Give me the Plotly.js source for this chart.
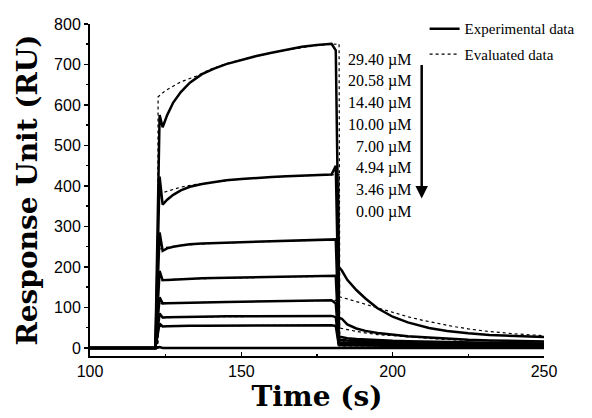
<!DOCTYPE html>
<html>
<head>
<meta charset="utf-8">
<script src="https://cdn.plot.ly/plotly-3.0.1.min.js"></script>
<style>html,body{margin:0;padding:0;background:#fff;}#chart{width:592px;height:418px;}</style>
</head>
<body>
<div id="chart"></div>
<script>
// Concentration labels (top to bottom)
const concLabels = ["29.40 \u00b5M", "20.58 \u00b5M", "14.40 \u00b5M", "10.00 \u00b5M", "7.00 \u00b5M", "4.94 \u00b5M", "3.46 \u00b5M", "0.00 \u00b5M"];

// Experimental data: shared time grid (s)
const expTime = [100, 121.6, 123.0, 124.0, 125.5, 127.5, 130, 133, 137, 141, 145, 150, 155, 160, 165, 170, 175, 179.8, 181.2, 182.2, 183.2, 185, 188, 191, 195, 200, 205, 212, 218, 225, 232, 240, 250];
const exp2940 = [0, 0, 575, 545, 575, 606, 632, 655, 676, 690, 701, 711, 721, 729, 736, 744, 748, 751, 735, 200, 191, 168, 143, 122, 98, 77, 63, 49, 42, 36, 32, 29, 27];
const exp2058 = [0, 0, 423, 354, 366, 378, 389, 398, 405, 410, 414, 417, 420, 422, 424, 425, 427, 428, 450, 75, 72, 58, 48, 42, 37, 33, 29, 26, 23, 20, 18.5, 17, 16];
const exp1440 = [0, 0, 285, 240, 246, 250, 253, 256, 258, 259, 260, 261, 262, 263, 264, 265, 266, 267, 268, 28, 26, 24, 22, 20.5, 19, 17.5, 16.5, 15, 14, 13, 12.5, 12, 11];
const exp1000 = [0, 0, 190, 167, 168, 169, 170, 171, 172, 172.5, 173, 174, 174.5, 175, 175.5, 176, 176.5, 177, 178, 20, 19, 18, 17, 16, 15, 14, 13, 12, 11.5, 11, 10.5, 10, 9.5];
const exp700 = [0, 0, 125, 110, 110.5, 111, 111.5, 112, 112.5, 113, 113.5, 114, 115, 115.5, 116, 116.5, 117, 117.5, 110, 14, 13.5, 13, 12.5, 12, 11.5, 11, 10.5, 10, 9.5, 9, 8.5, 8, 7.5];
const exp494 = [0, 0, 85, 75, 75.5, 76, 76.5, 77, 77, 77.5, 78, 78, 78.5, 78.5, 79, 79, 79, 79, 76, 10, 9.5, 9, 8.5, 8, 7.5, 7, 6.8, 6.5, 6.2, 6, 5.6, 5.3, 5];
const exp346 = [0, 0, 60, 53, 53.5, 54, 54, 54.5, 54.5, 55, 55, 55, 55.5, 55.5, 56, 56, 56, 56, 54, 7, 6.8, 6.5, 6.2, 6, 5.6, 5.3, 5, 4.7, 4.4, 4.1, 3.9, 3.7, 3.5];
const exp000 = [0, 0, 2, 0, 0, 0, 0, 0, 0, 0, 0, 0, 0, 0, 0, 0, 0, 0, 1, 0, 0, 0, 0, 0, 0, 0, 0, 0, 0, 0, 0, 0, 0];

// Evaluated (fitted) data: shared time grid (s)
const evalTime = [100, 122.3, 122.5, 125, 130, 135, 140, 145, 150, 155, 160, 165, 170, 175, 182.3, 182.5, 185, 190, 195, 200, 205, 210, 215, 220, 225, 230, 240, 250];
const eval2940 = [0, 0, 620, 636, 657, 671, 689, 702, 712, 721, 729, 736, 742, 747, 751, 126, 121, 110, 98, 87, 77, 68, 60, 53, 47, 42, 35, 30];
const eval2058 = [0, 0, 380, 386, 397, 404, 409, 413, 417, 420, 422, 424, 425, 427, 428, 49, 45, 38, 33, 30, 27, 24, 22, 20, 19, 18, 17, 16];
const eval1440 = [0, 0, 243, 248, 253, 256, 258, 259.5, 261, 262, 263, 264, 265, 266, 267, 22, 21, 19, 17.5, 16.5, 15.5, 14.5, 13.5, 13, 12.5, 12, 11.5, 11];
const eval1000 = [0, 0, 166, 168, 170, 171, 172, 173, 174, 174.5, 175, 175.5, 176, 176.5, 177, 15, 14.5, 13.5, 13, 12.5, 12, 11.5, 11, 10.5, 10, 10, 9.5, 9];
const eval700 = [0, 0, 109, 110, 111, 112, 113, 113.5, 114, 115, 115.5, 116, 116.5, 117, 117.5, 10, 9.8, 9.5, 9.2, 9, 8.7, 8.5, 8.2, 8, 7.8, 7.6, 7.3, 7];
const eval494 = [0, 0, 74, 75, 76, 76.5, 77, 77.5, 78, 78, 78.5, 78.5, 79, 79, 79, 7, 6.8, 6.5, 6.3, 6, 5.8, 5.6, 5.4, 5.2, 5, 4.9, 4.7, 4.5];
const eval346 = [0, 0, 53, 53.5, 54, 54.5, 55, 55, 55.5, 55.5, 56, 56, 56, 56, 56, 5, 4.8, 4.6, 4.4, 4.2, 4, 3.9, 3.8, 3.7, 3.6, 3.5, 3.4, 3.3];
const eval000 = [0, 0, 0, 0, 0, 0, 0, 0, 0, 0, 0, 0, 0, 0, 0, 0, 0, 0, 0, 0, 0, 0, 0, 0, 0, 0, 0, 0];

const expSeries = [exp2940, exp2058, exp1440, exp1000, exp700, exp494, exp346, exp000];
const evalSeries = [eval2940, eval2058, eval1440, eval1000, eval700, eval494, eval346, eval000];

const traces = [];
evalSeries.forEach((ys, i) => {
  traces.push({
    x: evalTime, y: ys, type: 'scatter', mode: 'lines',
    line: {color: '#000', width: 1.2, dash: 'dot'},
    name: 'Evaluated data', legendgroup: 'eval', legendrank: 2,
    showlegend: i === 0, hoverinfo: 'skip'
  });
});
expSeries.forEach((ys, i) => {
  traces.push({
    x: expTime, y: ys, type: 'scatter', mode: 'lines',
    line: {color: '#000', width: 2.5},
    name: 'Experimental data', legendgroup: 'exp', legendrank: 1,
    showlegend: i === 0, hoverinfo: 'skip'
  });
});

const annotations = concLabels.map((t, i) => ({
  xref: 'paper', yref: 'paper', x: 0.7115, y: 0.8925 - i * 0.0654,
  xanchor: 'right', yanchor: 'middle', showarrow: false, text: t,
  font: {family: 'Liberation Serif, Times New Roman, serif', size: 16, color: '#000'}
}));
annotations.push({
  xref: 'paper', yref: 'paper', x: 0.7306, y: 0.4746, ax: 0, ay: -135,
  text: '', showarrow: true, arrowhead: 2, arrowsize: 1, arrowwidth: 2.5, arrowcolor: '#000'
});

const tickFont = {family: 'Liberation Sans, Arial, sans-serif', size: 16, color: '#000'};
const titleFont = {family: 'DejaVu Serif, serif', size: 28, color: '#000', weight: 'bold'};

const layout = {
  width: 592, height: 418,
  margin: {l: 90, r: 48, t: 21, b: 62},
  paper_bgcolor: '#fff', plot_bgcolor: '#fff',
  showlegend: true,
  legend: {
    x: 0.737, y: 1.035, xanchor: 'left', yanchor: 'top',
    bgcolor: 'rgba(0,0,0,0)', borderwidth: 0, tracegroupgap: 3,
    font: {family: 'Liberation Serif, Times New Roman, serif', size: 15, color: '#000'}
  },
  xaxis: {
    range: [100, 250], dtick: 50, tick0: 100,
    showline: true, linewidth: 2, linecolor: '#000', mirror: false,
    ticks: 'inside', ticklen: 4, tickwidth: 1.5, tickcolor: '#000',
    minor: {dtick: 25, ticks: 'inside', ticklen: 2, tickwidth: 1.5, tickcolor: '#000'},
    showgrid: false, zeroline: false, tickfont: tickFont,
    title: {text: 'Time (s)\u00a0\u00a0\u00a0', font: titleFont, standoff: 6}
  },
  yaxis: {
    range: [-20, 800], dtick: 100, tick0: 0,
    showline: true, linewidth: 2, linecolor: '#000', mirror: false,
    ticks: 'outside', ticklen: 4, tickwidth: 1.5, tickcolor: '#000',
    minor: {dtick: 50, ticks: 'outside', ticklen: 2, tickwidth: 1.5, tickcolor: '#000'},
    showgrid: false, zeroline: false, tickfont: tickFont,
    title: {text: 'Response Unit (RU)', font: titleFont, standoff: 8}
  },
  annotations: annotations
};

Plotly.newPlot('chart', traces, layout, {displayModeBar: false, staticPlot: true});
</script>
</body>
</html>
